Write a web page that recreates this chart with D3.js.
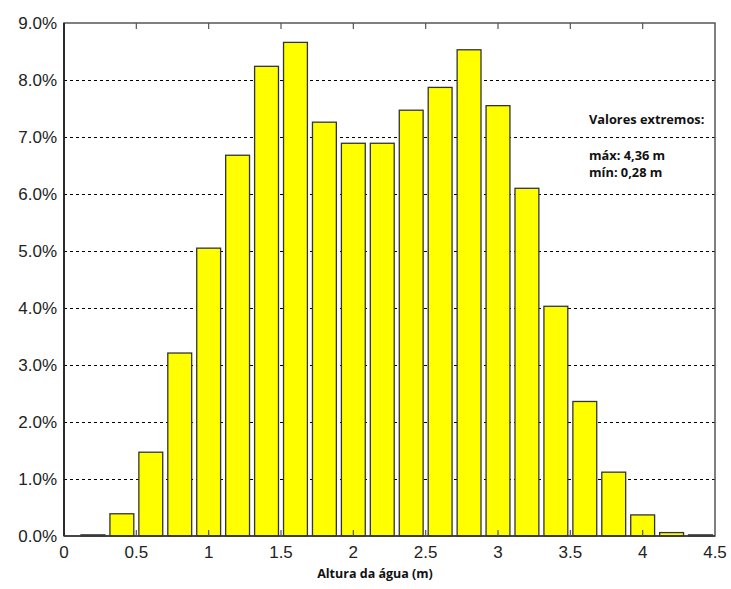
<!DOCTYPE html>
<html>
<head>
<meta charset="utf-8">
<script src="https://cdn.jsdelivr.net/npm/d3@7"></script>
<style>
  body { margin: 0; background: #fff; }
  svg text { font-family: "Liberation Sans", Arial, sans-serif; }
</style>
</head>
<body>
<div id="chart"></div>
<script>
// bin centres (m) and share of observations (%)
const binCenters = [0.2, 0.4, 0.6, 0.8, 1.0, 1.2, 1.4, 1.6, 1.8, 2.0, 2.2, 2.4, 2.6, 2.8, 3.0, 3.2, 3.4, 3.6, 3.8, 4.0, 4.2, 4.4];
const percents   = [0.02, 0.39, 1.47, 3.21, 5.05, 6.68, 8.24, 8.66, 7.26, 6.89, 6.89, 7.47, 7.87, 8.53, 7.55, 6.10, 4.03, 2.36, 1.12, 0.37, 0.06, 0.02];
const xTicks = [0, 0.5, 1, 1.5, 2, 2.5, 3, 3.5, 4, 4.5];
const yTicks = [0, 1, 2, 3, 4, 5, 6, 7, 8, 9];
const notes = ["Valores extremos:", "máx: 4,36 m", "mín: 0,28 m"];

const width = 731, height = 589;
const margin = ({top: 23, right: 16, bottom: 53, left: 64});
const barW = 0.165; // in metres

const svg = d3.select("#chart").append("svg")
  .attr("width", width)
  .attr("height", height);

const x = d3.scaleLinear().domain([0, 4.5]).range([margin.left, width - margin.right]);
const y = d3.scaleLinear().domain([0, 9]).range([height - margin.bottom, margin.top]);

// dashed grid
svg.append("g").selectAll("line")
  .data(yTicks.filter(d => d > 0 && d < 9))
  .enter().append("line")
  .attr("x1", x(0)).attr("x2", x(4.5))
  .attr("y1", d => y(d)).attr("y2", d => y(d))
  .attr("stroke", "#000")
  .attr("stroke-width", 1)
  .attr("stroke-dasharray", "3,3")
  .attr("shape-rendering", "crispEdges");

// bars
svg.append("g").selectAll("rect")
  .data(percents)
  .enter().append("rect")
  .attr("x", (d, i) => x(binCenters[i] - barW / 2))
  .attr("width", (d, i) => x(binCenters[i] + barW / 2) - x(binCenters[i] - barW / 2))
  .attr("y", d => y(d))
  .attr("height", d => y(0) - y(d))
  .attr("fill", "#ffff00")
  .attr("stroke", "#333")
  .attr("stroke-width", 1.3);

// frame with inward ticks
const frame = svg.append("g");
frame.append("rect")
  .attr("x", x(0)).attr("y", y(9))
  .attr("width", x(4.5) - x(0)).attr("height", y(0) - y(9))
  .attr("fill", "none")
  .attr("stroke", "#555")
  .attr("stroke-width", 1.5);
frame.append("line")
  .attr("x1", x(0)).attr("x2", x(0)).attr("y1", y(9)).attr("y2", y(0))
  .attr("stroke", "#111").attr("stroke-width", 1.5);
frame.append("line")
  .attr("x1", x(0)).attr("x2", x(4.5)).attr("y1", y(0)).attr("y2", y(0))
  .attr("stroke", "#333").attr("stroke-width", 1.5);

const inner = xTicks.filter(d => d > 0 && d < 4.5);
frame.selectAll("line.ttop")
  .data(inner).enter().append("line")
  .attr("class", "ttop")
  .attr("x1", d => x(d)).attr("x2", d => x(d))
  .attr("y1", y(9)).attr("y2", y(9) + 6)
  .attr("stroke", "#555").attr("stroke-width", 1.2);
frame.selectAll("line.tbot")
  .data(inner).enter().append("line")
  .attr("class", "tbot")
  .attr("x1", d => x(d)).attr("x2", d => x(d))
  .attr("y1", y(0)).attr("y2", y(0) - 6)
  .attr("stroke", "#555").attr("stroke-width", 1.2);

// tick labels
svg.append("g").selectAll("text")
  .data(yTicks).enter().append("text")
  .attr("x", x(0) - 7)
  .attr("y", d => y(d) + 6)
  .attr("text-anchor", "end")
  .attr("font-size", 17)
  .attr("fill", "#222")
  .text(d => d3.format(".1f")(d) + "%");

svg.append("g").selectAll("text")
  .data(xTicks).enter().append("text")
  .attr("x", d => x(d))
  .attr("y", y(0) + 22)
  .attr("text-anchor", "middle")
  .attr("font-size", 17)
  .attr("fill", "#222")
  .text(d => String(d));

// axis title
svg.append("text")
  .attr("x", 375)
  .attr("y", 578)
  .attr("text-anchor", "middle")
  .attr("font-size", 12.5)
  .attr("font-weight", "bold")
  .style("font-family", "'Open Sans', sans-serif")
  .attr("fill", "#111")
  .text("Altura da água (m)");

// annotation
svg.append("g").selectAll("text")
  .data(notes).enter().append("text")
  .attr("x", 589)
  .attr("y", (d, i) => i == 0 ? 124 : 143 + i * 17)
  .attr("font-size", 12.8)
  .attr("font-weight", "bold")
  .style("font-family", "'Open Sans', sans-serif")
  .attr("fill", "#111")
  .text(d => d);
</script>
</body>
</html>
